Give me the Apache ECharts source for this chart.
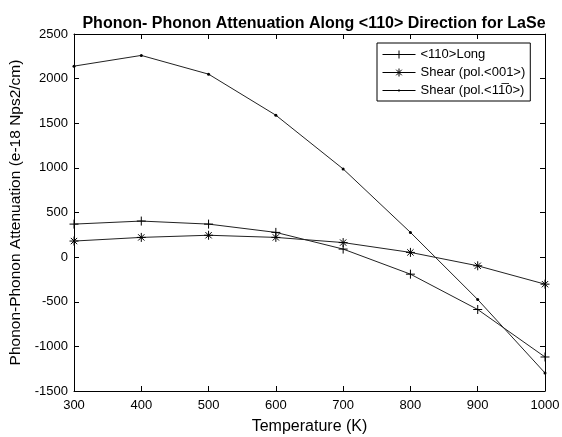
<!DOCTYPE html>
<html>
<head>
<meta charset="utf-8">
<script src="https://cdn.jsdelivr.net/npm/echarts@6/dist/echarts.min.js"></script>
<style>
html, body { margin: 0; padding: 0; background: #fff; }
#c_chart { width: 562px; height: 437px; }
</style>
</head>
<body>
<div id="c_chart"></div>
<script>
// temperatures (K)
var temps = [300, 400, 500, 600, 700, 800, 900, 1000];
// attenuation values (e-18 Nps2/cm)
var longVals = [370, 404, 370, 277, 90, -191, -587, -1119];
var shear001 = [180, 221, 245, 221, 163, 53, -97, -303];
var shear110 = [2140, 2260, 2050, 1590, 988, 277, -475, -1298];
var names = ['<110>Long', 'Shear (pol.<001>)', 'Shear (pol.<11\u03050>)'];

var plusSym = 'path://M0,-1L0,1M-1,0L1,0';
var starSym = 'path://M0,-1L0,1M-1,0L1,0M-0.7,-0.7L0.7,0.7M-0.7,0.7L0.7,-0.7';
// legend icons: line with the marker in the middle
var icons = [
    'path://M0,5L33,5M16.5,1L16.5,9M12.5,5L20.5,5',
    'path://M0,5L33,5M16.5,1L16.5,9M12.5,5L20.5,5M13.7,2.2L19.3,7.8M13.7,7.8L19.3,2.2',
    'path://M0,0L0,0M33,10L33,10M0,5L33,5M16,4.4L17,4.4L17,5.6L16,5.6Z'
];

function pairs(vals) {
    return temps.map(function (t, i) { return [t, vals[i]]; });
}

var dm = document.getElementById('c_chart');
var ch = echarts.init(dm);
var fnt = 'Liberation Sans';
var plain = function (v) { return String(v); };

var option = {
    backgroundColor: '#fff',
    animation: false,
    textStyle: { fontFamily: fnt },
    title: {
        text: 'Phonon- Phonon Attenuation Along <110> Direction for LaSe',
        left: 309, textAlign: 'center', top: 11,
        textStyle: { fontSize: 16, fontWeight: 'bold', color: '#000', fontFamily: fnt }
    },
    legend: {
        orient: 'vertical',
        left: 377, top: 43,
        padding: [5, 5, 4, 5],
        itemGap: 5,
        itemWidth: 33, itemHeight: 10,
        backgroundColor: '#fff',
        borderColor: '#000', borderWidth: 1, borderRadius: 0,
        textStyle: { fontSize: 13, color: '#000', fontFamily: fnt },
        itemStyle: { color: '#000', borderColor: '#000', borderWidth: 1 },
        data: names.map(function (n, i) { return { name: n, icon: icons[i] }; })
    },
    grid: { left: 74, right: 17, top: 34, bottom: 46, outerBoundsMode: 'none' },
    xAxis: [{
        type: 'value', min: 300, max: 1000, interval: 100,
        name: 'Temperature (K)', nameLocation: 'middle', nameGap: 28,
        nameTextStyle: { fontSize: 16, color: '#000' },
        axisLine: { onZero: false, lineStyle: { color: '#000' } },
        axisTick: { inside: true, length: 5, lineStyle: { color: '#000' } },
        axisLabel: { fontSize: 13, color: '#000', margin: 8, formatter: plain },
        splitLine: { show: false }
    }, {
        type: 'value', min: 300, max: 1000, interval: 100, position: 'top',
        axisLine: { onZero: false, lineStyle: { color: '#000' } },
        axisTick: { inside: true, length: 5, lineStyle: { color: '#000' } },
        axisLabel: { show: false }, splitLine: { show: false }
    }],
    yAxis: [{
        type: 'value', min: -1500, max: 2500, interval: 500,
        name: 'Phonon-Phonon Attenuation (e-18 Nps2/cm)', nameLocation: 'middle', nameGap: 41,
        nameTextStyle: { fontSize: 15.5, color: '#000' },
        axisLine: { show: true, onZero: false, lineStyle: { color: '#000' } },
        axisTick: { show: true, inside: true, length: 5, lineStyle: { color: '#000' } },
        axisLabel: { fontSize: 13, color: '#000', margin: 6, formatter: plain },
        splitLine: { show: false }
    }, {
        type: 'value', min: -1500, max: 2500, interval: 500, position: 'right',
        axisLine: { show: true, onZero: false, lineStyle: { color: '#000' } },
        axisTick: { show: true, inside: true, length: 5, lineStyle: { color: '#000' } },
        axisLabel: { show: false }, splitLine: { show: false }
    }],
    series: [{
        name: names[0], type: 'line', data: pairs(longVals),
        symbol: plusSym, symbolSize: 9, showAllSymbol: true,
        lineStyle: { color: '#222', width: 1 },
        itemStyle: { color: '#000', borderColor: '#000', borderWidth: 1 }
    }, {
        name: names[1], type: 'line', data: pairs(shear001),
        symbol: starSym, symbolSize: 9, showAllSymbol: true,
        lineStyle: { color: '#222', width: 1 },
        itemStyle: { color: '#000', borderColor: '#000', borderWidth: 1 }
    }, {
        name: names[2], type: 'line', data: pairs(shear110),
        symbol: 'circle', symbolSize: 3, showAllSymbol: true,
        lineStyle: { color: '#222', width: 1 },
        itemStyle: { color: '#000', borderColor: '#000', borderWidth: 0 }
    }]
};

ch.setOption(option);
window.onresize = function () {
    ch.resize();
};
</script>
</body>
</html>
